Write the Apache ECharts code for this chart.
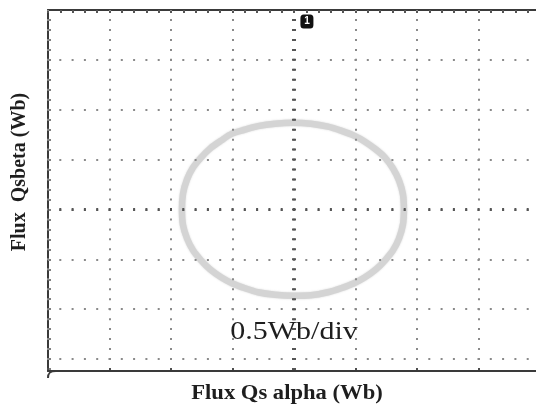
<!DOCTYPE html>
<html>
<head>
<meta charset="utf-8">
<script src="https://cdn.jsdelivr.net/npm/echarts@6/dist/echarts.min.js"></script>
<style>
  html, body { margin: 0; padding: 0; background: #ffffff; }
  #chart { width: 536px; height: 408px; }
</style>
</head>
<body>
<div id="chart"></div>
<script>
// Stator flux locus: alpha component against beta component, in Wb (0.5 Wb per division)
const fluxAlpha = [
  0.894, 0.886, 0.854, 0.805, 0.740, 0.667, 0.577, 0.488, 0.382, 0.276, 0.138, -0.008,
  -0.154, -0.293, -0.398, -0.504, -0.593, -0.683, -0.756, -0.821, -0.870, -0.902, -0.911,
  -0.902, -0.870, -0.821, -0.756, -0.683, -0.593, -0.504, -0.398, -0.293, -0.154, -0.008,
  0.138, 0.276, 0.382, 0.488, 0.577, 0.667, 0.740, 0.805, 0.854, 0.886, 0.894
];
const fluxBeta = [
  0.00, 0.15, 0.29, 0.41, 0.52, 0.60, 0.68, 0.74, 0.79, 0.83, 0.86, 0.87,
  0.86, 0.835, 0.80, 0.76, 0.69, 0.61, 0.52, 0.42, 0.30, 0.16, 0.00,
  -0.16, -0.29, -0.41, -0.51, -0.60, -0.68, -0.74, -0.79, -0.83, -0.855, -0.865,
  -0.86, -0.83, -0.79, -0.74, -0.68, -0.60, -0.51, -0.41, -0.29, -0.15, 0.00
];

// Screen extents and divisions
const alphaRange = [-2, 2];
const betaRange = [-1.62, 2];
const divisionStep = 0.5;
const minorStep = 0.1;
const betaGridValues = [-1.5, -1, -0.5, 0, 0.5, 1, 1.5];

// Texts
const scaleText = '0.5Wb/div';
const alphaName = 'Flux Qs alpha (Wb)';
const betaName = 'Flux  Qsbeta (Wb)';
const channelMarker = { label: '1', alpha: 0.105, beta: 1.885 };

// Minor tick positions along the left edge, one per 0.1 Wb
const betaMinorTicks = [];
for (let k = Math.ceil(betaRange[0] / minorStep); k * minorStep < betaRange[1] - 1e-9; k++) {
  betaMinorTicks.push(Math.round(k * minorStep * 10) / 10);
}

const grid = { left: 48, top: 10, width: 492, height: 361 };
const pxPerMinorX = grid.width / ((alphaRange[1] - alphaRange[0]) / minorStep);
const pxPerMinorY = grid.height / ((betaRange[1] - betaRange[0]) / minorStep);

const dotColor = '#8a8a8a';
const frameColor = '#3a3a3a';
const serif = '"Liberation Serif", "DejaVu Serif", serif';

const chart = echarts.init(document.getElementById('chart'), null, { renderer: 'canvas' });

chart.setOption({
  animation: false,
  backgroundColor: '#ffffff',
  grid: Object.assign({ outerBoundsMode: 'none', containLabel: false }, grid),
  xAxis: [
    {
      type: 'value', position: 'bottom', min: alphaRange[0], max: alphaRange[1], interval: divisionStep,
      z: 3,
      axisLine: { show: true, onZero: false, lineStyle: { color: frameColor, width: 2 } },
      axisTick: { show: true, inside: true, length: 3, lineStyle: { color: frameColor, width: 1.5 } },
      axisLabel: { show: false },
      splitLine: { show: true, lineStyle: { color: dotColor, width: 2, type: [2, pxPerMinorY - 2], dashOffset: 1 } }
    },
    {
      type: 'value', position: 'top', min: alphaRange[0], max: alphaRange[1], interval: minorStep,
      axisLine: { show: true, onZero: false, lineStyle: { color: frameColor, width: 2 } },
      axisTick: { show: true, inside: true, length: 3, lineStyle: { color: '#555555', width: 2 } },
      axisLabel: { show: false },
      splitLine: { show: false }
    }
  ],
  yAxis: [
    {
      type: 'value', position: 'left', min: betaRange[0], max: betaRange[1],
      axisLine: { show: true, onZero: false, lineStyle: { color: frameColor, width: 2 } },
      axisTick: { show: true, inside: true, length: 3, customValues: betaMinorTicks, lineStyle: { color: '#555555', width: 1.5 } },
      axisLabel: { show: false },
      splitLine: { show: false }
    },
    {
      type: 'value', position: 'right', min: betaRange[0], max: betaRange[1],
      z: 3,
      axisLine: { show: false, onZero: false },
      axisTick: { show: false, customValues: betaGridValues },
      axisLabel: { show: false },
      splitLine: { show: true, lineStyle: { color: dotColor, width: 2, type: [2, pxPerMinorX - 2], dashOffset: 1 } }
    }
  ],
  series: [
    {
      name: 'flux locus',
      type: 'line',
      xAxisIndex: 0,
      yAxisIndex: 0,
      data: fluxAlpha.map((a, i) => [a, fluxBeta[i]]),
      showSymbol: false,
      smooth: 0.3,
      silent: true,
      z: 2,
      lineStyle: { color: '#d4d4d4', width: 6.5, shadowBlur: 2, shadowColor: 'rgba(205,205,205,0.8)' },
      markLine: {
        silent: true,
        symbol: 'none',
        label: { show: false },
        emphasis: { disabled: true },
        data: [
          [
            { coord: [0, betaRange[1]], lineStyle: { color: '#555555', width: 4, type: [2, pxPerMinorY - 2], dashOffset: 1 } },
            { coord: [0, betaRange[0]] }
          ],
          [
            { coord: [alphaRange[0], 0], lineStyle: { color: '#555555', width: 3, type: [2, pxPerMinorX - 2], dashOffset: 1 } },
            { coord: [alphaRange[1], 0] }
          ]
        ]
      },
      markPoint: {
        silent: true,
        data: [
          {
            coord: [channelMarker.alpha, channelMarker.beta],
            symbol: 'roundRect',
            symbolSize: [13, 14],
            itemStyle: { color: '#111111' },
            label: { show: true, formatter: channelMarker.label, color: '#ffffff', fontSize: 10, fontWeight: 'bold', fontFamily: 'Arial, sans-serif', position: 'inside' }
          }
        ]
      }
    }
  ],
  graphic: [
    {
      // rounded lower-left corner of the screen frame
      type: 'bezierCurve', z: 10, silent: true,
      shape: { x1: 56, y1: 371, cpx1: 50, cpy1: 371, cpx2: 48, cpy2: 373, x2: 48, y2: 378 },
      style: { stroke: frameColor, lineWidth: 2, fill: null }
    },
    {
      type: 'text', x: 294, y: 332, scaleX: 1.2, z: 10,
      style: { text: scaleText, font: '25px ' + serif, fill: '#1e1e1e', align: 'center', verticalAlign: 'middle', textAlign: 'center', textVerticalAlign: 'middle' }
    },
    {
      type: 'text', x: 287, y: 394, scaleX: 1.13, z: 10,
      style: { text: alphaName, font: 'bold 20px ' + serif, fill: '#1e1e1e', align: 'center', verticalAlign: 'middle', textAlign: 'center', textVerticalAlign: 'middle' }
    },
    {
      type: 'text', x: 20, y: 172, rotation: Math.PI / 2, z: 10,
      style: { text: betaName, font: 'bold 20px ' + serif, fill: '#1e1e1e', align: 'center', verticalAlign: 'middle', textAlign: 'center', textVerticalAlign: 'middle' }
    }
  ]
});
</script>
</body>
</html>
